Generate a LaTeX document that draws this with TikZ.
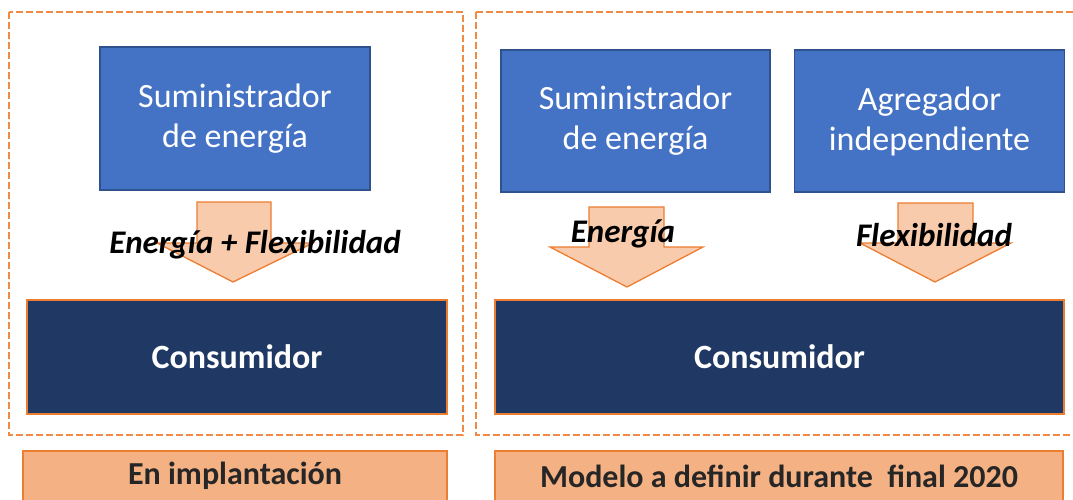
\documentclass[tikz,border=0pt]{standalone}
\usepackage{fontspec}
\setmainfont{Carlito}
\definecolor{boxblue}{HTML}{4472C4}
\definecolor{boxblueedge}{HTML}{2F528F}
\definecolor{navy}{HTML}{203864}
\definecolor{orng}{HTML}{ED7D31}
\definecolor{dashorng}{HTML}{F08A45}
\definecolor{arrowfill}{HTML}{F8CBAD}
\definecolor{labfill}{HTML}{F4B183}
\definecolor{labtext}{HTML}{262626}
\tikzset{
  region/.style={draw=dashorng, line width=2pt, dash pattern=on 7pt off 3pt},
  actor/.style={draw=boxblueedge, fill=boxblue, line width=1.4pt, text=white, align=center, font=\fontsize{34}{40}\selectfont, inner sep=0pt},
  consumer/.style={draw=orng, fill=navy, line width=1.4pt, text=white, font=\fontsize{34}{38}\selectfont\bfseries, inner sep=0pt},
  flowarrow/.style={draw=orng, fill=arrowfill, line width=1.3pt, line join=miter},
  flowlabel/.style={font=\fontsize{33}{36}\selectfont\bfseries\itshape, text=black, inner sep=0pt},
  phase/.style={draw=orng, fill=labfill, line width=1.4pt, text=labtext, font=\fontsize{32}{36}\selectfont\bfseries, inner sep=0pt},
}
\begin{document}
\begin{tikzpicture}[x=1pt, y=-1pt]
\useasboundingbox (0,0) rectangle (1073,499);
% regions
\draw[region] (9,12) rectangle (463,435);
\draw[region] (476,12) -- (1080,12);
\draw[region] (476,12) -- (476,435) -- (1080,435);
% left panel
\node[actor, minimum width=270pt, minimum height=143pt] (supL) at (235,118.5) {Suministrador\\de energía};
\node[consumer, minimum width=420pt, minimum height=114pt] (consL) at (237,357) {Consumidor};
\draw[flowarrow] (197,202) -- (271,202) -- (271,243) -- (313,243) -- (233,282) -- (157,243) -- (197,243) -- cycle;
\node[flowlabel] (flowL) at (255,245) {Energía + Flexibilidad};
% right panel
\node[actor, minimum width=269pt, minimum height=142pt] (supR) at (635.5,121) {Suministrador\\de energía};
\node[actor, minimum width=270pt, minimum height=142pt] (aggR) at (929.5,121) {Agregador\\independiente};
\node[consumer, minimum width=569pt, minimum height=114pt] (consR) at (779.5,357) {Consumidor};
\draw[flowarrow] (589,207) -- (664,207) -- (664,247) -- (703,247) -- (627,287) -- (550,247) -- (589,247) -- cycle;
\draw[flowarrow] (898,203) -- (973,203) -- (973,243) -- (1011,243) -- (935,282) -- (860,243) -- (898,243) -- cycle;
\node[flowlabel] (flowE) at (623,234) {Energía};
\node[flowlabel] (flowF) at (934,235) {Flexibilidad};
% phase labels
\node[phase, minimum width=424pt, minimum height=50pt] (phaseL) at (235,476) {En implantación};
\node[phase, minimum width=568pt, minimum height=50pt] (phaseR) at (779,476) {Modelo a definir durante\ \ final 2020};
\end{tikzpicture}
\end{document}
